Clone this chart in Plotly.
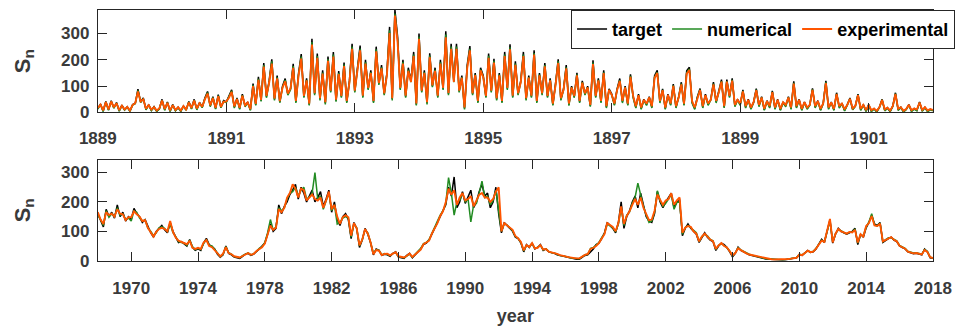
import numpy as np
import plotly.graph_objects as go

# ---------------- top panel data (half-monthly samples, 1889.0 - 1902.0) ----------------
top_start, top_per_year = 1889, 24
top_target = [
 15,32,5,42,10,45,18,38,6,28,10,22,5,30,35,89,40,55,12,30,8,22,5,15,
 50,10,40,5,30,8,20,5,25,10,42,15,50,12,38,20,55,80,25,60,15,68,20,45,
 40,60,86,20,55,15,70,25,40,10,110,30,135,45,188,60,120,202,50,140,40,100,129,70,
 90,185,40,150,222,60,130,30,280,70,224,50,160,35,212,80,230,45,157,60,190,40,120,261,
 80,170,254,60,200,90,160,40,250,110,180,70,150,325,50,390,288,90,200,60,170,120,230,30,
 300,80,160,35,225,100,170,60,200,90,308,70,261,120,261,80,140,15,180,252,70,150,40,170,
 140,60,224,80,204,50,150,40,230,90,259,60,194,70,120,230,50,140,60,236,40,150,70,188,
 60,130,30,110,202,50,90,180,30,100,60,151,40,120,70,100,25,198,60,130,40,160,20,90,
 70,30,90,129,40,100,30,145,60,20,70,15,50,30,60,20,140,160,40,90,15,70,30,108,
 20,60,115,30,158,172,40,15,60,91,20,70,30,50,115,40,80,125,20,125,60,130,25,50,
 30,86,20,50,15,40,91,25,60,10,45,20,82,15,50,10,40,25,60,15,118,20,50,10,
 40,15,30,92,20,45,10,35,120,15,40,10,75,20,35,8,30,55,12,25,70,10,30,5,
 30,5,15,3,20,50,8,18,4,25,75,10,20,3,12,30,5,15,8,40,6,20,4,12,
 8]
top_numerical = [
 13,30,4,40,8,43,16,36,5,26,9,20,4,28,33,84,38,52,10,28,7,20,4,13,
 47,8,38,4,28,6,18,4,23,8,40,13,47,10,36,18,52,76,22,57,13,64,18,42,
 38,57,82,17,52,12,66,22,37,8,104,27,128,42,180,56,114,194,46,134,37,95,123,66,
 86,176,36,144,212,56,124,27,268,66,214,46,152,31,203,76,220,41,150,56,182,36,114,250,
 76,163,243,56,191,86,153,36,240,105,172,66,144,312,46,376,276,86,192,56,162,115,220,27,
 288,76,153,31,216,96,163,56,191,86,296,66,250,115,250,76,134,12,172,242,66,144,36,163,
 134,56,215,76,196,46,144,36,220,86,248,56,186,66,115,220,46,134,56,226,36,144,66,180,
 56,124,27,105,194,46,86,172,26,96,56,145,36,115,66,96,22,190,56,124,36,153,17,86,
 66,27,86,123,36,96,27,139,56,17,66,12,47,27,56,17,134,153,36,86,12,66,27,103,
 17,57,110,27,151,165,36,12,57,87,17,66,27,47,110,36,76,119,17,119,56,124,22,47,
 27,82,17,47,12,37,87,22,57,8,42,17,78,12,47,8,37,22,57,12,113,17,47,8,
 37,12,28,88,17,42,8,33,115,12,37,8,71,17,33,6,28,52,10,23,67,8,28,4,
 28,4,13,2,18,48,6,16,3,23,72,8,18,2,10,28,4,13,6,38,5,18,3,10,
 6]
top_experimental = [
 17,30,8,40,12,42,20,35,9,26,12,21,8,28,36,80,42,50,14,28,11,20,8,16,
 45,13,37,8,28,10,20,8,24,12,38,17,45,15,35,22,50,72,27,55,18,62,22,41,
 42,56,78,23,51,18,64,28,38,13,100,33,124,48,174,63,112,186,53,130,43,94,118,72,
 92,170,44,140,205,63,122,34,258,73,208,54,148,39,196,83,212,49,146,63,176,44,113,242,
 83,158,236,64,186,93,150,44,232,112,168,73,141,302,54,368,268,93,186,64,158,116,214,34,
 280,83,150,39,210,103,158,64,186,93,286,74,242,116,242,83,132,19,168,236,73,142,44,160,
 133,63,208,83,190,54,141,44,214,93,240,64,181,73,114,214,54,132,64,220,44,141,73,175,
 63,122,34,104,188,54,86,168,34,95,63,141,44,113,73,95,29,184,63,122,44,150,24,86,
 67,34,85,120,44,95,34,135,63,24,66,19,48,34,57,24,131,150,44,85,19,67,34,101,
 24,56,107,34,147,161,44,19,57,85,24,66,34,48,107,44,76,117,24,117,63,121,29,48,
 34,80,24,48,19,39,85,29,57,14,43,24,77,19,48,14,39,29,57,19,110,24,48,14,
 39,19,29,86,24,43,14,34,112,19,38,14,70,24,34,12,29,52,16,25,66,14,29,9,
 29,9,15,7,20,47,12,18,8,24,70,14,20,7,13,29,9,15,12,38,10,20,8,13,
 10]

# ---------------- bottom panel data (bi-monthly samples, 1968.0 - 2018.0) ----------------
bot_start, bot_per_year = 1968, 6
bot_target = [
 160,135,115,175,150,165, 145,190,150,165,135,150, 140,178,160,150,130,140,
 115,95,80,100,110,120, 105,95,130,100,80,62, 65,58,50,72,45,35,
 40,35,60,76,55,48, 40,22,12,20,50,25, 20,12,10,8,15,22, 25,18,22,30,40,50,
 60,90,125,100,110,190, 160,185,200,225,240,260, 210,250,230,200,220,240,
 200,215,235,185,210,240, 165,200,140,120,150,160, 140,75,130,110,45,70,
 110,90,60,20,40,35, 18,22,20,15,25,30, 12,10,8,18,25,10, 20,32,40,55,60,70,
 90,110,130,150,165,190, 250,220,285,180,200,235, 195,215,240,180,200,235,
 260,220,230,180,200,250, 160,95,130,120,110,100, 80,75,60,30,55,45,
 60,40,45,55,35,40, 30,28,25,20,18,15, 12,10,8,6,5,5, 12,18,20,30,40,55,
 60,75,95,130,120,110, 95,130,200,110,150,170, 200,220,180,230,190,150,
 135,130,160,235,200,180, 200,215,230,180,200,205, 85,110,125,110,100,90,
 62,80,95,80,70,65, 35,50,60,55,45,30, 13,25,46,35,30,24, 20,18,15,12,10,8,
 6,5,4,3,4,3, 2,3,4,6,8,10, 20,18,25,35,28,30, 40,55,73,62,100,140,
 60,90,110,100,95,90, 95,100,110,55,90,80, 112,130,155,125,120,130,
 62,70,75,80,70,65, 50,45,40,30,28,24, 25,22,20,40,30,10,
 8]
bot_numerical = [
 155,140,120,170,148,160, 150,180,155,160,140,145, 135,170,165,145,135,138,
 110,100,85,95,112,115, 110,98,125,95,82,65, 62,60,52,70,48,38,
 42,38,58,72,52,50, 38,24,14,22,48,27, 22,14,12,10,17,22, 27,20,24,32,42,48,
 62,95,140,105,115,180, 170,180,210,230,235,250, 220,240,250,210,215,230,
 300,210,220,175,200,230, 170,190,125,130,145,150, 145,80,125,112,50,72,
 105,95,62,25,38,36, 20,24,22,17,24,28, 14,12,10,16,22,12, 22,34,42,58,62,72,
 95,112,135,155,170,195, 283,230,155,200,205,230, 200,210,132,190,195,230,
 271,215,220,190,205,240, 165,100,125,122,112,102, 82,76,62,33,52,48,
 58,42,46,52,37,40, 32,27,26,22,18,17, 14,11,9,8,7,7, 14,20,22,42,45,52,
 62,78,92,125,118,112, 98,125,180,120,155,165, 195,215,264,220,185,155,
 130,135,165,238,205,185, 195,210,225,175,198,200, 90,112,120,112,102,95,
 65,82,90,85,72,68, 38,52,58,52,44,33, 16,27,44,37,31,26, 22,19,16,13,11,9,
 7,6,5,4,4,4, 3,4,5,7,9,11, 22,20,27,33,30,32, 42,57,70,65,98,135,
 65,92,105,102,96,92, 97,98,108,60,88,85, 115,132,160,122,118,128,
 65,72,78,78,72,68, 52,46,42,32,29,26, 27,24,22,38,32,12,
 9]
bot_experimental = [
 165,140,125,165,155,160, 150,175,160,158,138,148, 148,168,158,150,135,138,
 112,98,82,98,108,112, 108,100,135,98,78,68, 64,58,56,68,44,40,
 44,40,62,70,50,46, 36,24,15,24,46,26, 22,15,12,11,16,21, 26,20,23,33,40,46,
 58,88,120,105,112,175, 165,180,215,230,260,245, 215,245,240,205,215,225,
 210,205,215,180,205,235, 175,190,150,125,148,155, 148,85,128,110,52,72,
 108,92,62,22,36,34, 19,23,24,18,24,29, 15,12,11,17,24,13, 21,30,38,56,62,68,
 92,108,128,152,168,200, 245,225,240,190,215,230, 205,210,220,185,205,225,
 230,215,215,200,210,235, 250,100,128,120,115,105, 84,76,64,35,53,47,
 60,42,44,53,38,40, 31,29,26,23,19,18, 15,12,10,9,8,8, 15,20,23,40,44,50,
 60,76,90,128,122,115, 100,128,185,125,152,168, 190,210,190,215,180,160,
 138,140,170,225,205,190, 205,210,230,190,205,215, 95,112,118,115,100,92,
 66,82,92,82,72,66, 40,52,60,50,45,32, 18,26,42,36,30,25, 21,19,17,14,11,9,
 7,6,5,4,4,4, 4,4,6,7,8,10, 21,19,26,34,29,31, 41,56,68,64,102,142,
 62,92,108,100,96,92, 98,96,105,62,90,82, 118,128,152,120,118,126,
 66,70,76,80,71,66, 51,46,41,31,28,25, 26,23,21,36,30,12,
 9]

top_ticks = [1889, 1891, 1893, 1895, 1897, 1899, 1901]
bot_ticks = [1970, 1974, 1978, 1982, 1986, 1990, 1994, 1998, 2002, 2006, 2010, 2014, 2018]
y_ticks = [0, 100, 200, 300]

x_top = top_start + np.arange(len(top_target)) / top_per_year
x_bot = bot_start + np.arange(len(bot_target)) / bot_per_year

C_T, C_N, C_E = "#000000", "#228B22", "#FF5500"
FONT = "Liberation Sans"
TICKC = "#3a3a3a"

fig = go.Figure()
for xs, ys, name, col, w, ax, show in [
    (x_top, top_target, "target", C_T, 1.5, "1", True),
    (x_top, top_numerical, "numerical", C_N, 1.5, "1", True),
    (x_top, top_experimental, "experimental", C_E, 1.9, "1", True),
    (x_bot, bot_target, "target", C_T, 1.5, "2", False),
    (x_bot, bot_numerical, "numerical", C_N, 1.5, "2", False),
    (x_bot, bot_experimental, "experimental", C_E, 1.9, "2", False),
]:
    fig.add_trace(go.Scatter(
        x=xs, y=ys, mode="lines", name=name, showlegend=show,
        line=dict(color=col, width=w),
        xaxis="x" if ax == "1" else "x2", yaxis="y" if ax == "1" else "y2",
        hoverinfo="skip"))

axis_common = dict(
    showline=True, linecolor="#262626", linewidth=1, mirror="ticks",
    ticks="inside", ticklen=9, tickcolor="#262626", tickwidth=1,
    showgrid=False, zeroline=False,
    tickfont=dict(family=FONT, size=17, color=TICKC, weight="bold"),
)
ytitle_font = dict(family=FONT, size=22, color=TICKC, weight="bold")

fig.update_layout(
    width=975, height=326, margin=dict(l=0, r=0, t=0, b=0),
    paper_bgcolor="white", plot_bgcolor="white",
    font=dict(family=FONT, size=17, color=TICKC),
    xaxis=dict(domain=[0.0841, 0.9754], range=[1889, 1902], tickvals=top_ticks,
               anchor="y", ticklabelstandoff=10, **axis_common),
    yaxis=dict(domain=[0.644, 0.969], range=[0, 390], tickvals=y_ticks,
               anchor="x", ticklabelstandoff=4,
               title=dict(text="S<sub>n</sub>", standoff=24, font=ytitle_font),
               **axis_common),
    xaxis2=dict(domain=[0.0841, 0.9754], range=[1968, 2018], tickvals=bot_ticks,
                anchor="y2", ticklabelstandoff=12,
                title=dict(text="year", standoff=13,
                           font=dict(family=FONT, size=18, color=TICKC, weight="bold")),
                **axis_common),
    yaxis2=dict(domain=[0.175, 0.494], range=[0, 343], tickvals=y_ticks,
                anchor="x2", ticklabelstandoff=4,
                title=dict(text="S<sub>n</sub>", standoff=24, font=ytitle_font),
                **axis_common),
    legend=dict(orientation="h", x=0.999, xanchor="right", y=0.969, yanchor="top",
                bgcolor="white", bordercolor="#262626", borderwidth=1,
                font=dict(family=FONT, size=18, color="#000000", weight="bold"),
                itemwidth=30, tracegroupgap=0, itemclick=False),
    showlegend=True,
)

fig.write_html("out.html")
